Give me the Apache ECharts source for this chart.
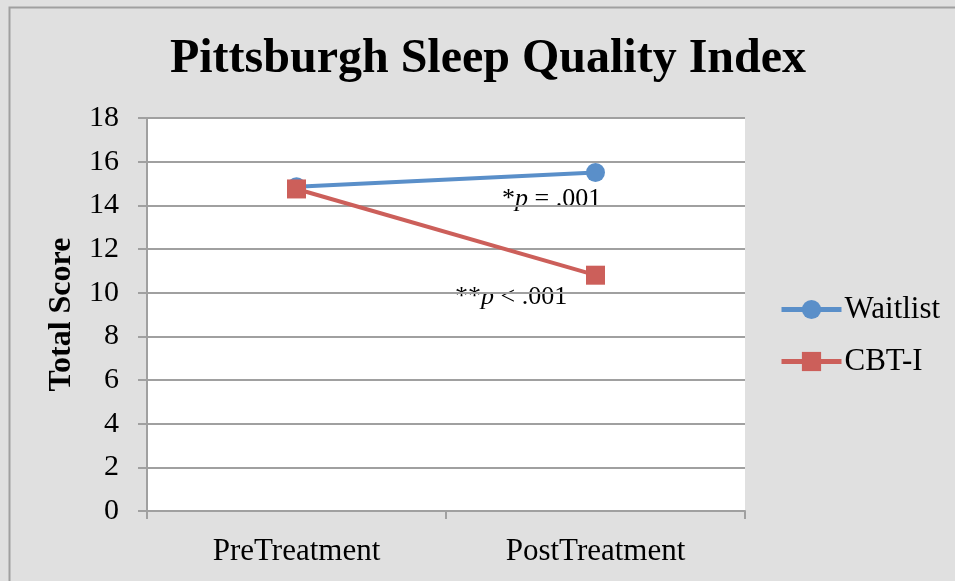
<!DOCTYPE html>
<html>
<head>
<meta charset="utf-8">
<script src="https://cdn.jsdelivr.net/npm/echarts@6/dist/echarts.min.js"></script>
<style>
  html, body { margin: 0; padding: 0; background: #e0e0e0; }
  #chart { width: 955px; height: 581px; }
</style>
</head>
<body>
<div id="chart"></div>
<script>
// data
const categories = ['PreTreatment', 'PostTreatment'];
const waitlist = [14.85, 15.5];
const cbti = [14.75, 10.8];
const yTicks = { min: 0, max: 18, interval: 2 };

const serif = 'Liberation Serif, Times New Roman, serif';
const gridColor = '#a0a0a0';

const chart = echarts.init(document.getElementById('chart'));

const option = {
    backgroundColor: '#e0e0e0',
    animation: false,
    title: {
        text: 'Pittsburgh Sleep Quality Index',
        left: 483,
        top: 31,
        textAlign: 'center',
        textStyle: {
            fontFamily: serif,
            fontSize: 48,
            fontWeight: 'bold',
            color: '#000'
        }
    },
    grid: {
        left: 147,
        right: 210,
        top: 118,
        bottom: 70,
        show: true,
        backgroundColor: '#fff',
        borderWidth: 0
    },
    legend: {
        orient: 'vertical',
        left: 774,
        top: 289,
        itemWidth: 60,
        itemHeight: 24,
        itemGap: 21,
        lineStyle: { width: 5 },
        textStyle: { fontFamily: serif, fontSize: 31, color: '#000', padding: [0, 0, 0, -2] },
        data: ['Waitlist', 'CBT-I']
    },
    xAxis: {
        type: 'category',
        data: categories,
        boundaryGap: true,
        axisLine: { lineStyle: { color: gridColor, width: 2 } },
        axisTick: { show: true, length: 8, lineStyle: { color: gridColor, width: 2 } },
        axisLabel: { fontFamily: serif, fontSize: 31, color: '#000', margin: 25 }
    },
    yAxis: {
        type: 'value',
        min: yTicks.min,
        max: yTicks.max,
        interval: yTicks.interval,
        name: 'Total Score',
        nameLocation: 'middle',
        nameGap: 69,
        nameTextStyle: { fontFamily: serif, fontSize: 32, fontWeight: 'bold', color: '#000' },
        axisLine: { show: true, lineStyle: { color: gridColor, width: 2 } },
        axisTick: { show: true, length: 9, lineStyle: { color: gridColor, width: 2 } },
        splitLine: { lineStyle: { color: gridColor, width: 2 } },
        axisLabel: { fontFamily: serif, fontSize: 30, color: '#000', margin: 28 }
    },
    series: [
        {
            name: 'Waitlist',
            type: 'line',
            data: waitlist,
            symbol: 'circle',
            symbolSize: 19,
            color: '#5a8fc9',
            lineStyle: { width: 4, color: '#5a8fc9' },
            itemStyle: { color: '#5a8fc9' }
        },
        {
            name: 'CBT-I',
            type: 'line',
            data: cbti,
            symbol: 'rect',
            symbolSize: 19,
            color: '#cc5f5a',
            lineStyle: { width: 4, color: '#cc5f5a' },
            itemStyle: { color: '#cc5f5a' }
        }
    ],
    graphic: [
        {
            type: 'rect',
            shape: { x: 9.5, y: 7.5, width: 960, height: 600 },
            style: { fill: null, stroke: '#a0a0a0', lineWidth: 2 },
            silent: true
        },
        {
            type: 'text',
            left: 502,
            top: 186,
            style: {
                text: '*{i|p} = .001',
                font: '26px ' + serif,
                fill: '#000',
                rich: { i: { fontStyle: 'italic', fontFamily: serif, fontSize: 26 } }
            }
        },
        {
            type: 'text',
            left: 455,
            top: 284,
            style: {
                text: '**{i|p} < .001',
                font: '26px ' + serif,
                fill: '#000',
                rich: { i: { fontStyle: 'italic', fontFamily: serif, fontSize: 26 } }
            }
        }
    ]
};

chart.setOption(option);
</script>
</body>
</html>
